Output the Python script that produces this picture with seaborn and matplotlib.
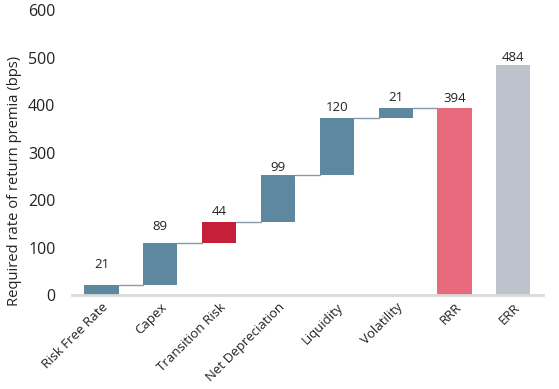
import matplotlib
matplotlib.use("Agg")
import matplotlib.pyplot as plt
import seaborn as sns
import numpy as np

# Waterfall data (bps)
categories = ["Risk Free Rate", "Capex", "Transition Risk", "Net Depreciation",
              "Liquidity", "Volatility", "RRR", "ERR"]
steps = [21, 89, 44, 99, 120, 21]
rrr_total = 394
err_total = 484
label_text = ["21", "89", "44", "99", "120", "21", "394", "484"]

BLUE = "#5e87a0"
RED = "#c61f3a"
PINK = "#e86b7d"
GREY = "#bcc3cc"
bar_colors = [BLUE, BLUE, RED, BLUE, BLUE, BLUE, PINK, GREY]
# extra lift (points) for the first labels, as in the source chart
label_lift = [16, 13, 9, 7, 9, 9, 8, 7]

sns.set_theme(style="white")
plt.rcParams["font.family"] = ["Open Sans", "DejaVu Sans"]

cum = np.cumsum(steps)
bottoms = list(cum - np.array(steps)) + [0, 0]
heights = list(steps) + [rrr_total, err_total]

fig = plt.figure(figsize=(5.59, 3.89), dpi=100)
ax = fig.add_axes([0.129, 0.241, 0.842, 0.733])

width = 0.58
sns.barplot(x=categories, y=heights, bottom=bottoms, color=BLUE,
            width=width, saturation=1, ax=ax, linewidth=0)
for patch, c in zip(ax.patches, bar_colors):
    patch.set_facecolor(c)
    patch.set_edgecolor(c)

# connectors
for i in range(len(steps)):
    level = cum[i]
    ax.plot([i + width / 2, i + 1 - width / 2], [level, level],
            color="#8b9aab", lw=1, zorder=1)

# value labels
for i, (b, h) in enumerate(zip(bottoms, heights)):
    ax.annotate(label_text[i], (i, b + h), xytext=(0, label_lift[i] - 6),
                textcoords="offset points", ha="center", va="bottom",
                fontsize=9.5, color="#222222")

ax.set_xlim(-0.5, 7.5)
ax.set_ylim(0, 600)
ax.set_yticks(range(0, 601, 100))
ax.tick_params(axis="y", labelsize=11.5, colors="#222222", length=0, pad=12)
ax.tick_params(axis="x", labelsize=9.5, colors="#222222", length=0, pad=4)
plt.setp(ax.get_xticklabels(), rotation=45, ha="right", rotation_mode="anchor")
ax.set_ylabel("Required rate of return premia (bps)", fontsize=10.6, color="#222222")
ax.yaxis.set_label_coords(-0.106, 0.40)

for s in ["top", "right", "left"]:
    ax.spines[s].set_visible(False)
ax.spines["bottom"].set_color("#d9d9d9")
ax.spines["bottom"].set_linewidth(2)
ax.grid(False)

fig.savefig("out.png", dpi=100)
